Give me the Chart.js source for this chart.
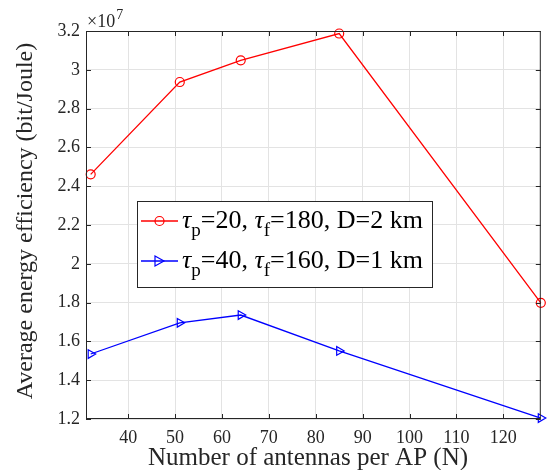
<!DOCTYPE html>
<html>
<head>
<meta charset="utf-8">
<script src="https://cdn.jsdelivr.net/npm/chart.js@4.4.1/dist/chart.umd.min.js"></script>
<style>
  body { margin: 0; background: #fff; }
  #wrap { width: 547px; height: 470px; }
</style>
</head>
<body>
<div id="wrap"><canvas id="eeChart" width="547" height="470"></canvas></div>
<script>
// number of antennas per AP
const antennas = [32, 51, 64, 85, 128];
// average energy efficiency, in units of 1e7 bit/Joule
const eeTau20 = [2.461, 2.937, 3.049, 3.187, 1.799];
const eeTau40 = [1.535, 1.696, 1.736, 1.551, 1.205];

const xTicks = [40, 50, 60, 70, 80, 90, 100, 110, 120];
const yTicks = [1.2, 1.4, 1.6, 1.8, 2.0, 2.2, 2.4, 2.6, 2.8, 3.0, 3.2];

const legendRows = [
  { color: '#ff0000', marker: 'circle', tp: '20', tf: '180', rest: ', D=2 km' },
  { color: '#0000ff', marker: 'triangle', tp: '40', tf: '160', rest: ', D=1 km' }
];

const SERIF = '"Liberation Serif", "Times New Roman", serif';
const AXIS = '#262626';

// MATLAB-like box, inner ticks, titles, exponent and legend
const decorations = {
  id: 'decorations',
  afterDraw(chart) {
    const ctx = chart.ctx;
    const a = chart.chartArea;
    const xs = chart.scales.x, ys = chart.scales.y;
    ctx.save();

    // box + inner ticks
    ctx.strokeStyle = AXIS;
    ctx.lineWidth = 1;
    ctx.strokeRect(a.left + 0.5, a.top + 0.5, a.right - a.left - 1, a.bottom - a.top - 1);
    ctx.beginPath();
    xTicks.forEach(v => {
      const px = Math.round(xs.getPixelForValue(v)) + 0.5;
      ctx.moveTo(px, a.bottom); ctx.lineTo(px, a.bottom - 5);
      ctx.moveTo(px, a.top); ctx.lineTo(px, a.top + 5);
    });
    yTicks.forEach(v => {
      const py = Math.round(ys.getPixelForValue(v)) + 0.5;
      ctx.moveTo(a.left, py); ctx.lineTo(a.left + 5, py);
      ctx.moveTo(a.right, py); ctx.lineTo(a.right - 5, py);
    });
    ctx.stroke();

    ctx.fillStyle = AXIS;
    // exponent label
    ctx.textAlign = 'left';
    ctx.textBaseline = 'alphabetic';
    ctx.font = '18px ' + SERIF;
    ctx.fillText('\u00d710', a.left + 1, 27);
    const w10 = ctx.measureText('\u00d710').width;
    ctx.font = '14px ' + SERIF;
    ctx.fillText('7', a.left + 1 + w10 + 1, 19);

    // axis titles
    ctx.font = '25px ' + SERIF;
    ctx.textAlign = 'center';
    ctx.textBaseline = 'middle';
    ctx.fillText('Number of antennas per AP (N)', 308, 458);
    ctx.save();
    ctx.font = '24px ' + SERIF;
    ctx.translate(26, 221);
    ctx.rotate(-Math.PI / 2);
    ctx.fillText('Average energy efficiency (bit/Joule)', 0, 0);
    ctx.restore();

    // legend
    const lx = 137, ly = 201, lw = 295, lh = 86;
    ctx.fillStyle = '#ffffff';
    ctx.fillRect(lx, ly, lw, lh);
    ctx.strokeStyle = '#262626';
    ctx.strokeRect(lx + 0.5, ly + 0.5, lw, lh);
    legendRows.forEach((row, i) => {
      const base = 228 + i * 40;
      const cy = base - 7;
      ctx.strokeStyle = row.color;
      ctx.lineWidth = 1.3;
      ctx.beginPath();
      ctx.moveTo(141, cy); ctx.lineTo(178, cy);
      ctx.stroke();
      ctx.lineWidth = 1.2;
      ctx.beginPath();
      if (row.marker === 'circle') {
        ctx.arc(159.5, cy, 4.5, 0, Math.PI * 2);
      } else {
        ctx.moveTo(155, cy - 5); ctx.lineTo(164, cy); ctx.lineTo(155, cy + 5); ctx.closePath();
      }
      ctx.stroke();

      ctx.fillStyle = '#000000';
      ctx.textAlign = 'left';
      ctx.textBaseline = 'alphabetic';
      const parts = [
        { t: '\u03c4', f: 'italic 26px ' + SERIF, dy: 0 },
        { t: 'p', f: '19px ' + SERIF, dy: 8 },
        { t: '=' + row.tp + ', ', f: '26px ' + SERIF, dy: 0 },
        { t: '\u03c4', f: 'italic 26px ' + SERIF, dy: 0 },
        { t: 'f', f: '19px ' + SERIF, dy: 8 },
        { t: '=' + row.tf + row.rest, f: '26px ' + SERIF, dy: 0 }
      ];
      let x = 182;
      parts.forEach(p => {
        ctx.font = p.f;
        ctx.fillText(p.t, x, base + p.dy);
        x += ctx.measureText(p.t).width;
      });
    });
    ctx.restore();
  }
};

new Chart(document.getElementById('eeChart'), {
  type: 'line',
  data: {
    datasets: [
      {
        label: 'tau_p=20, tau_f=180, D=2 km',
        data: antennas.map((n, i) => ({ x: n, y: eeTau20[i] })),
        borderColor: '#ff0000',
        borderWidth: 1.3,
        pointStyle: 'circle',
        pointRadius: 4.5,
        pointBorderWidth: 1.2,
        pointBackgroundColor: 'rgba(0,0,0,0)',
        pointBorderColor: '#ff0000',
        tension: 0,
        clip: false
      },
      {
        label: 'tau_p=40, tau_f=160, D=1 km',
        data: antennas.map((n, i) => ({ x: n, y: eeTau40[i] })),
        borderColor: '#0000ff',
        borderWidth: 1.3,
        pointStyle: 'triangle',
        pointRotation: 90,
        pointRadius: 5,
        pointBorderWidth: 1.2,
        pointBackgroundColor: 'rgba(0,0,0,0)',
        pointBorderColor: '#0000ff',
        tension: 0,
        clip: false
      }
    ]
  },
  options: {
    responsive: false,
    animation: false,
    layout: { padding: { top: 31, right: 2, left: 0, bottom: 0 } },
    plugins: { legend: { display: false }, tooltip: { enabled: false } },
    scales: {
      x: {
        type: 'linear',
        min: 31,
        max: 128,
        afterBuildTicks: s => { s.ticks = xTicks.map(v => ({ value: v })); },
        afterFit: s => { s.height = 51; },
        grid: { color: '#e3e3e3', drawTicks: false },
        border: { display: false },
        ticks: {
          autoSkip: false, maxRotation: 0, padding: 8,
          color: AXIS, font: { family: SERIF, size: 18 }
        }
      },
      y: {
        min: 1.2,
        max: 3.2,
        afterBuildTicks: s => { s.ticks = yTicks.map(v => ({ value: v })); },
        afterFit: s => { s.width = 86; },
        grid: { color: '#e3e3e3', drawTicks: false },
        border: { display: false },
        ticks: {
          padding: 6,
          color: AXIS, font: { family: SERIF, size: 18 },
          callback: v => String(+v.toFixed(1))
        }
      }
    }
  },
  plugins: [decorations]
});
</script>
</body>
</html>
